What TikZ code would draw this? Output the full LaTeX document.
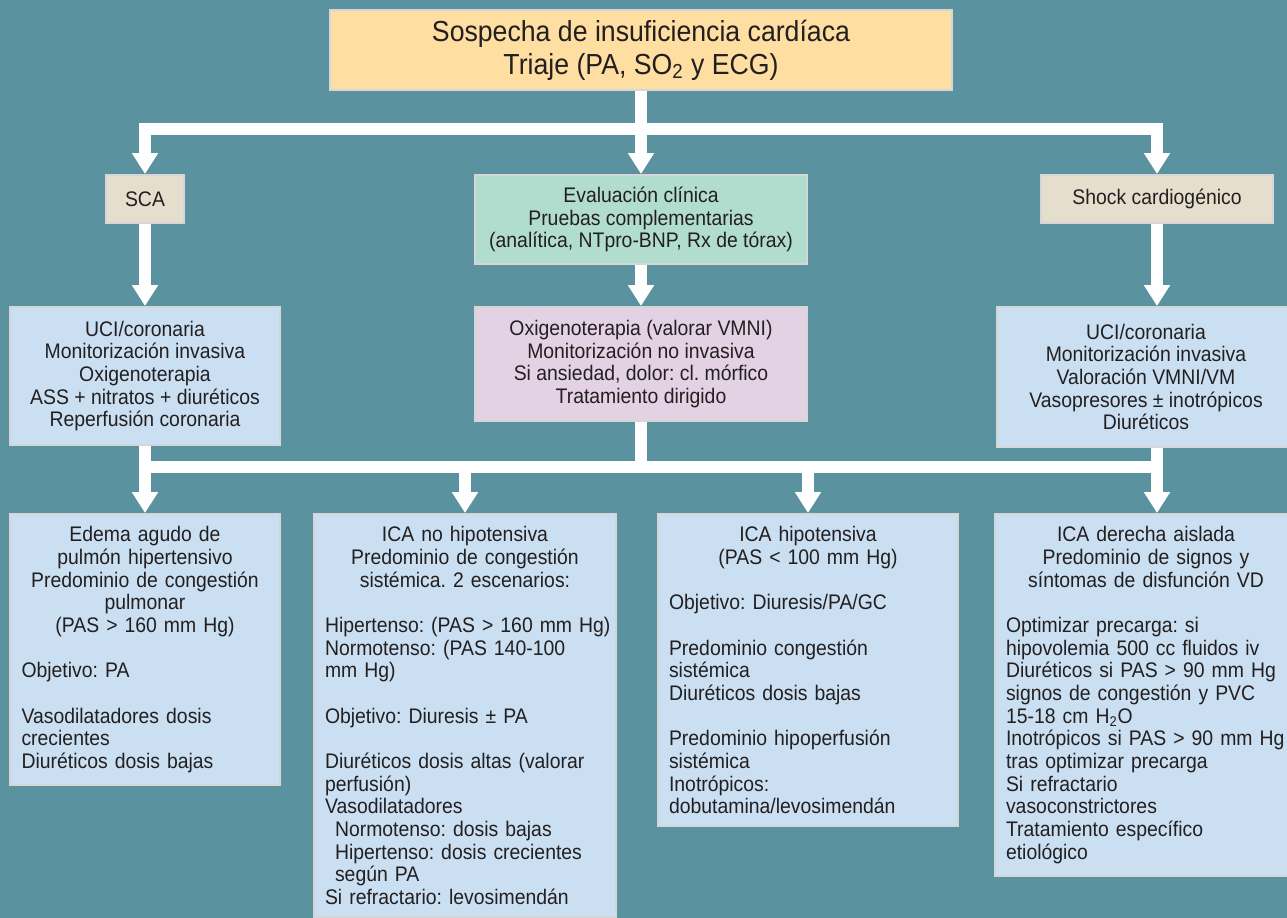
\documentclass[tikz,border=0pt]{standalone}
\usepackage{fontspec}
\setmainfont{Liberation Sans}[FakeStretch=0.92]
\usetikzlibrary{arrows.meta}

\definecolor{fondo}{RGB}{91,146,159}
\definecolor{borde}{RGB}{214,214,214}
\definecolor{texto}{RGB}{35,31,32}
\definecolor{naranja}{RGB}{254,222,161}
\definecolor{beige}{RGB}{229,222,204}
\definecolor{menta}{RGB}{177,221,206}
\definecolor{lila}{RGB}{226,210,228}
\definecolor{celeste}{RGB}{202,223,241}

\newcommand{\lineavacia}{\par\vspace{\baselineskip}}
\newcommand{\sangria}{\hspace*{0.2cm}}
\frenchspacing

\begin{document}
\begin{tikzpicture}[x=0.02cm, y=-0.02cm,
    caja/.style={draw=borde, line width=0.04cm, text=texto, align=center, inner sep=0pt,
        font=\fontsize{12}{12.9}\selectfont},
    cabecera/.style={caja, fill=naranja, minimum width=12.44cm, minimum height=1.6cm,
        font=\fontsize{16.5}{18.8}\selectfont},
    etiqueta/.style={caja, fill=beige, minimum height=0.96cm},
    evaluacion/.style={caja, fill=menta, minimum width=6.66cm, minimum height=1.78cm},
    tratamiento/.style={caja, fill=lila, minimum width=6.66cm, minimum height=2.28cm},
    unidad/.style={caja, fill=celeste},
    escenario/.style={caja, fill=celeste, anchor=north, align=left,
        inner xsep=0.23cm, inner ysep=0.25cm}]
    \fill[fondo] (0,0) rectangle (1287,918);
    \useasboundingbox (0,0) rectangle (1287,918);
    \begin{scope}
        \node[cabecera] (sospecha) at (641,50) {Sospecha de insuficiencia cardíaca\\Triaje (PA, SO\textsubscript{2} y ECG)};
        \node[etiqueta, minimum width=1.56cm] (sca) at (145,199) {SCA};
        \node[etiqueta, minimum width=4.64cm] (shock) at (1157,199) {Shock cardiogénico};
        \node[evaluacion] (evaluacion) at (641,219.5) {Evaluación clínica\\Pruebas complementarias\\(analítica, NTpro-BNP, Rx de tórax)};
        \node[tratamiento] (oxigeno) at (641,364) {Oxigenoterapia (valorar VMNI)\\Monitorización no invasiva\\Si ansiedad, dolor: cl. mórfico\\Tratamiento dirigido};
        \node[unidad, minimum width=5.4cm, minimum height=2.76cm] (uci1) at (145,376) {UCI/coronaria\\Monitorización invasiva\\Oxigenoterapia\\ASS + nitratos + diuréticos\\Reperfusión coronaria};
        \node[unidad, minimum width=5.96cm, minimum height=2.8cm] (uci2) at (1146,377) {UCI/coronaria\\Monitorización invasiva\\Valoración VMNI/VM\\Vasopresores ± inotrópicos\\Diuréticos};
        \node[escenario, text width=4.94cm] (edema) at (145,513) {{\centering Edema agudo de\\pulmón hipertensivo\\Predominio de congestión\\pulmonar\\(PAS > 160 mm Hg)\par}
            \lineavacia Objetivo: PA
            \lineavacia Vasodilatadores dosis\\crecientes\\Diuréticos dosis bajas};
        \node[escenario, text width=5.6cm] (nohipo) at (465,513) {{\centering ICA no hipotensiva\\Predominio de congestión\\sistémica. 2 escenarios:\par}
            \lineavacia \mbox{Hipertenso: (PAS > 160 mm Hg)}\\Normotenso: (PAS 140-100\\mm Hg)
            \lineavacia Objetivo: Diuresis ± PA
            \lineavacia Diuréticos dosis altas (valorar\\perfusión)\\Vasodilatadores\\\sangria Normotenso: dosis bajas\\\sangria Hipertenso: dosis crecientes\\\sangria según PA\\Si refractario: levosimendán};
        \node[escenario, text width=5.56cm] (hipo) at (808,513) {{\centering ICA hipotensiva\\(PAS < 100 mm Hg)\par}
            \lineavacia Objetivo: Diuresis/PA/GC
            \lineavacia Predominio congestión\\sistémica\\Diuréticos dosis bajas
            \lineavacia Predominio hipoperfusión\\sistémica\\Inotrópicos:\\dobutamina/levosimendán};
        \node[escenario, text width=5.6cm] (derecha) at (1146,513) {{\centering ICA derecha aislada\\Predominio de signos y\\síntomas de disfunción VD\par}
            \lineavacia Optimizar precarga: si\\hipovolemia 500 cc fluidos iv\\Diuréticos si PAS > 90 mm Hg\\signos de congestión y PVC\\15-18 cm H\textsubscript{2}O\\Inotrópicos si PAS > 90 mm Hg\\tras optimizar precarga\\Si refractario\\vasoconstrictores\\Tratamiento específico\\etiológico};
        \coordinate (cruce1) at (641,129);
        \coordinate (cruce2) at (641,467);
    \end{scope}
    \begin{scope}
        \tikzstyle{every edge}=[draw, white, line width=0.24cm, -{Triangle[width=0.5cm, length=0.42cm]}]
        \path
        (sospecha.south) edge[-] (cruce1)
        (cruce1) edge[to path={-| (\tikztotarget)}] (sca.north)
        (cruce1) edge[to path={-| (\tikztotarget)}] (shock.north)
        (cruce1) edge (evaluacion.north)
        (sca.south) edge (uci1.north)
        (shock.south) edge (shock |- uci2.north)
        (evaluacion.south) edge (oxigeno.north)
        (oxigeno.south) edge[-] (cruce2)
        (uci1.south) edge[-, to path={|- (\tikztotarget)}] (shock |- cruce2)
        (shock |- uci2.south) edge[-] (shock |- cruce2)
        (uci1.south |- cruce2) edge (edema.north)
        (nohipo.north |- cruce2) edge (nohipo.north)
        (hipo.north |- cruce2) edge (hipo.north)
        (shock |- cruce2) edge (shock |- derecha.north);
    \end{scope}
\end{tikzpicture}
\end{document}
